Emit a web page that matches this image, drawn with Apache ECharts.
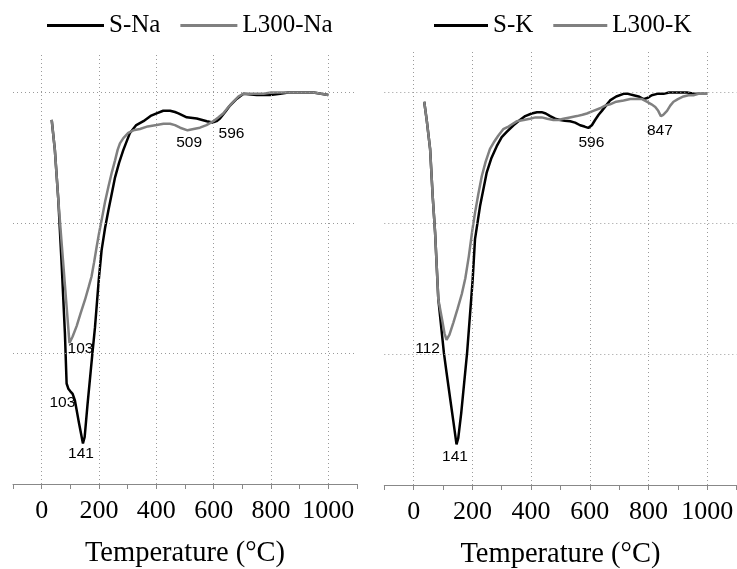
<!DOCTYPE html>
<html>
<head>
<meta charset="utf-8">
<script src="https://cdn.jsdelivr.net/npm/echarts@6/dist/echarts.min.js"></script>
<style>html,body{margin:0;padding:0;background:#fff}#c{width:737px;height:569px}</style>
</head>
<body>
<div id="c"></div>
<script>
// ---- data ----
const xTicks = [0, 200, 400, 600, 800, 1000];
const yGrid = [1, 2, 3];
const xName = 'Temperature (°C)';

const sNaX = [35, 46, 58, 70, 81, 87, 93, 100, 108, 116, 130, 144, 150, 160, 177, 186, 199, 209, 221, 233, 245, 256, 270, 285, 308, 330, 355, 380, 401, 424, 448, 465, 477, 506, 541, 576, 596, 610, 622, 640, 657, 680, 704, 750, 797, 832, 860, 890, 920, 948, 975, 1000];
const sNaY = [2.79, 2.56, 2.18, 1.67, 1.16, 0.77, 0.73, 0.71, 0.69, 0.64, 0.47, 0.31, 0.36, 0.61, 1.00, 1.20, 1.56, 1.79, 1.96, 2.10, 2.23, 2.35, 2.46, 2.56, 2.69, 2.75, 2.78, 2.82, 2.84, 2.86, 2.86, 2.85, 2.84, 2.81, 2.80, 2.78, 2.77, 2.78, 2.80, 2.85, 2.90, 2.95, 2.99, 2.98, 2.98, 2.99, 3.00, 3.00, 3.00, 3.00, 2.99, 2.98];

const lNaX = [35, 46, 58, 67, 76, 87, 97, 108, 122, 136, 151, 164, 174, 183, 192, 200, 209, 221, 233, 245, 256, 265, 273, 285, 302, 320, 343, 370, 401, 425, 448, 465, 483, 509, 530, 552, 575, 599, 617, 634, 652, 669, 687, 704, 740, 774, 800, 832, 860, 890, 920, 948, 975, 1000];
const lNaY = [2.79, 2.56, 2.18, 1.92, 1.67, 1.36, 1.08, 1.13, 1.21, 1.31, 1.41, 1.51, 1.59, 1.70, 1.82, 1.92, 2.02, 2.16, 2.28, 2.39, 2.48, 2.56, 2.61, 2.65, 2.69, 2.71, 2.72, 2.74, 2.75, 2.76, 2.76, 2.75, 2.73, 2.71, 2.72, 2.73, 2.75, 2.78, 2.81, 2.84, 2.89, 2.93, 2.97, 2.99, 2.99, 2.99, 3.00, 3.00, 3.00, 3.00, 3.00, 3.00, 2.99, 2.98];

const sKX = [36, 45, 56, 65, 73, 84, 103, 112, 125, 135, 146, 152, 162, 182, 201, 209, 226, 249, 265, 283, 300, 317, 340, 362, 380, 402, 420, 436, 450, 465, 482, 499, 515, 533, 550, 567, 582, 595, 607, 618, 630, 641, 655, 669, 690, 715, 730, 749, 766, 783, 798, 811, 830, 851, 870, 885, 910, 931, 960, 1000];
const sKY = [2.93, 2.78, 2.57, 2.20, 1.93, 1.42, 1.01, 0.86, 0.65, 0.49, 0.31, 0.36, 0.55, 1.01, 1.57, 1.88, 2.13, 2.39, 2.50, 2.59, 2.66, 2.70, 2.75, 2.79, 2.82, 2.84, 2.85, 2.85, 2.84, 2.82, 2.80, 2.79, 2.785, 2.78, 2.77, 2.75, 2.74, 2.73, 2.75, 2.79, 2.83, 2.86, 2.90, 2.94, 2.97, 2.99, 2.99, 2.98, 2.97, 2.95, 2.96, 2.98, 2.99, 2.99, 3.00, 3.00, 3.00, 3.00, 2.99, 2.99];

const lKX = [36, 45, 56, 65, 73, 84, 98, 105, 112, 122, 135, 150, 164, 176, 188, 200, 209, 220, 232, 245, 260, 273, 288, 305, 323, 351, 375, 396, 415, 436, 455, 476, 493, 510, 532, 556, 575, 590, 612, 635, 652, 669, 690, 715, 738, 760, 778, 794, 810, 823, 833, 842, 850, 856, 863, 874, 885, 900, 919, 936, 953, 970, 1000];
const lKY = [2.93, 2.78, 2.57, 2.20, 1.93, 1.42, 1.25, 1.16, 1.11, 1.15, 1.24, 1.35, 1.46, 1.58, 1.75, 1.95, 2.08, 2.22, 2.36, 2.47, 2.57, 2.62, 2.67, 2.72, 2.74, 2.78, 2.79, 2.80, 2.81, 2.81, 2.80, 2.79, 2.79, 2.80, 2.81, 2.82, 2.83, 2.84, 2.86, 2.88, 2.90, 2.91, 2.93, 2.94, 2.95, 2.95, 2.95, 2.93, 2.91, 2.89, 2.86, 2.82, 2.83, 2.84, 2.86, 2.90, 2.93, 2.95, 2.97, 2.98, 2.98, 2.99, 2.99];

// peak annotations: [x, y, text]
const sNaPeaks = [[100, 0.71, '103'], [144, 0.31, '141'], [596, 2.77, '596']];
const lNaPeaks = [[97, 1.08, '103'], [509, 2.71, '509']];
const sKPeaks = [[146, 0.31, '141'], [595, 2.73, '596']];
const lKPeaks = [[112, 1.11, '112'], [842, 2.82, '847']];

// ---- styling / layout ----
const zip = (xs, ys) => xs.map((x, i) => [x, ys[i]]);
const offsets = {
  'S-Na': [[-8, 11], [-2, 10], [19, 11]],
  'L300-Na': [[11, 6], [1.5, 12.5]],
  'S-K': [[-1.5, 12], [3, 15]],
  'L300-K': [[-19, 8.5], [-1, 15]]
};
const serif = 'Liberation Serif';
function peakPoints(name, peaks) {
  return {
    silent: true, animation: false, symbol: 'circle', symbolSize: 0,
    itemStyle: { color: 'transparent' },
    label: { show: true, position: 'inside', color: '#000', fontFamily: 'Liberation Sans', fontSize: 15.5 },
    data: peaks.map((p, i) => ({ coord: [p[0], p[1]], value: p[2], label: { formatter: p[2], offset: offsets[name][i] } }))
  };
}
function gridLines() {
  return {
    silent: true, animation: false, symbol: ['none', 'none'], label: { show: false },
    lineStyle: { color: '#9a9a9a', type: [1, 3], width: 1 },
    emphasis: { disabled: true },
    data: xTicks.map(v => ({ xAxis: v })).concat(yGrid.map(v => ({ yAxis: v })))
  };
}
function xAxisCfg(idx) {
  return {
    type: 'value', gridIndex: idx, min: -100, max: 1100, interval: 100,
    name: xName, nameLocation: 'middle', nameGap: 55,
    nameTextStyle: { fontFamily: serif, fontSize: 28.5, color: '#000' },
    axisLine: { show: true, lineStyle: { color: '#888', width: 1 } },
    axisTick: { show: true, length: 5, lineStyle: { color: '#888' } },
    axisLabel: {
      margin: 14, fontFamily: serif, fontSize: 26, color: '#000',
      formatter: v => { const r = Math.round(v); return xTicks.indexOf(r) >= 0 ? String(r) : ''; }
    },
    splitLine: { show: false }
  };
}
function yAxisCfg(idx) {
  return { type: 'value', gridIndex: idx, min: 0, max: 3.31, show: false, splitLine: { show: false } };
}
function lineSeries(name, xs, ys, idx, color, peaks, withGrid) {
  const s = {
    name, type: 'line', xAxisIndex: idx, yAxisIndex: idx, data: zip(xs, ys),
    showSymbol: false, symbol: 'none', smooth: false, animation: false,
    lineStyle: { color, width: 2.5 }, itemStyle: { color },
    markPoint: peakPoints(name, peaks)
  };
  if (withGrid) s.markLine = gridLines();
  return s;
}
const legendBase = {
  top: 8, itemWidth: 57, itemHeight: 3, icon: 'rect', itemGap: 20,
  textStyle: { fontFamily: serif, fontSize: 25, color: '#000' }, selectedMode: false
};

const chart = echarts.init(document.getElementById('c'), null, { renderer: 'canvas' });
chart.setOption({
  backgroundColor: '#fff',
  animation: false,
  legend: [
    Object.assign({}, legendBase, { left: 42, data: ['S-Na', 'L300-Na'] }),
    Object.assign({}, legendBase, { left: 429, itemWidth: 54, data: ['S-K', 'L300-K'] })
  ],
  grid: [
    { left: 13, top: 52, width: 344, height: 432, containLabel: false, outerBoundsMode: 'none' },
    { left: 384.3, top: 52, width: 352.3, height: 433, containLabel: false, outerBoundsMode: 'none' }
  ],
  xAxis: [xAxisCfg(0), xAxisCfg(1)],
  yAxis: [yAxisCfg(0), yAxisCfg(1)],
  series: [
    lineSeries('S-Na', sNaX, sNaY, 0, '#000', sNaPeaks, true),
    lineSeries('L300-Na', lNaX, lNaY, 0, '#808080', lNaPeaks, false),
    lineSeries('S-K', sKX, sKY, 1, '#000', sKPeaks, true),
    lineSeries('L300-K', lKX, lKY, 1, '#808080', lKPeaks, false)
  ]
});
</script>
</body>
</html>
